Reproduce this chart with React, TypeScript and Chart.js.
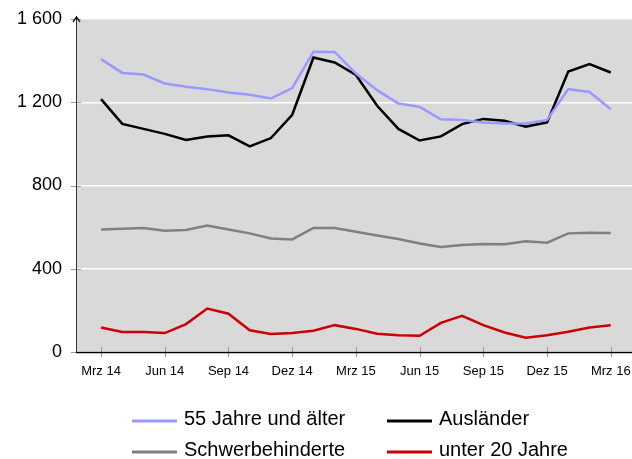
import React, { useEffect, useRef } from "react";
import { Chart, registerables } from "chart.js";

Chart.register(...registerables);

const months = [
  "Mrz 14", "Apr 14", "Mai 14", "Jun 14", "Jul 14", "Aug 14", "Sep 14", "Okt 14", "Nov 14", "Dez 14",
  "Jan 15", "Feb 15", "Mrz 15", "Apr 15", "Mai 15", "Jun 15", "Jul 15", "Aug 15", "Sep 15", "Okt 15",
  "Nov 15", "Dez 15", "Jan 16", "Feb 16", "Mrz 16",
];
const xTickIndices = [0, 3, 6, 9, 12, 15, 18, 21, 24];
const yTicks = [0, 400, 800, 1200, 1600];
const yTickLabels = ["0", "400", "800", "1 200", "1 600"];

const older55 = [1407, 1341, 1333, 1290, 1274, 1263, 1247, 1236, 1218, 1268, 1443, 1442, 1338, 1258, 1194, 1178, 1118, 1115, 1103, 1098, 1098, 1115, 1263, 1249, 1166];
const auslaender = [1215, 1096, 1072, 1048, 1019, 1035, 1041, 988, 1028, 1140, 1415, 1391, 1331, 1183, 1072, 1016, 1036, 1095, 1120, 1111, 1083, 1103, 1348, 1383, 1343];
const schwer = [588, 592, 596, 583, 586, 608, 589, 570, 545, 541, 596, 596, 578, 560, 543, 521, 504, 514, 519, 518, 532, 525, 570, 573, 572];
const unter20 = [118, 96, 96, 91, 134, 209, 184, 104, 86, 91, 102, 129, 111, 88, 80, 78, 140, 174, 129, 94, 69, 80, 97, 118, 129];

const seriesNames = ["55 Jahre und älter", "Ausländer", "Schwerbehinderte", "unter 20 Jahre"];
const seriesColors = ["#9999ff", "#000000", "#808080", "#cc0000"];
const seriesData = [older55, auslaender, schwer, unter20];

const FONT = "'Liberation Sans', Arial, sans-serif";

const decorPlugin = {
  id: "decor",
  beforeDraw(chart: any) {
    const { ctx, chartArea } = chart;
    ctx.save();
    ctx.fillStyle = "#d9d9d9";
    ctx.fillRect(chartArea.left, chartArea.top, chartArea.right - chartArea.left, chartArea.bottom - chartArea.top);
    ctx.restore();
  },
  afterDraw(chart: any) {
    const { ctx, chartArea, scales } = chart;
    const xs = scales.x;
    const ys = scales.y;
    ctx.save();
    // y ticks
    ctx.strokeStyle = "#999999";
    ctx.lineWidth = 1;
    for (const v of yTicks) {
      const py = Math.round(ys.getPixelForValue(v)) + 0.5;
      ctx.beginPath();
      ctx.moveTo(chartArea.left - 5, py);
      ctx.lineTo(chartArea.left + 5, py);
      ctx.stroke();
    }
    // x ticks
    for (const v of xTickIndices) {
      const px = Math.round(xs.getPixelForValue(v)) + 0.5;
      ctx.beginPath();
      ctx.moveTo(px, chartArea.bottom - 5);
      ctx.lineTo(px, chartArea.bottom + 5);
      ctx.stroke();
    }
    // y axis line with arrow
    ctx.strokeStyle = "#333333";
    ctx.lineWidth = 1;
    const ax = chartArea.left + 0.5;
    ctx.beginPath();
    ctx.moveTo(ax, chartArea.bottom);
    ctx.lineTo(ax, chartArea.top - 2);
    ctx.stroke();
    ctx.strokeStyle = "#000000";
    ctx.lineWidth = 1.3;
    ctx.beginPath();
    ctx.moveTo(ax - 3.5, chartArea.top + 3);
    ctx.lineTo(ax, chartArea.top - 2);
    ctx.lineTo(ax + 3.5, chartArea.top + 3);
    ctx.stroke();
    // x axis line
    ctx.strokeStyle = "#000000";
    ctx.lineWidth = 1.5;
    ctx.beginPath();
    ctx.moveTo(chartArea.left, chartArea.bottom + 0.5);
    ctx.lineTo(chartArea.right, chartArea.bottom + 0.5);
    ctx.stroke();
    // legend
    const cols = [132, 387];
    const rows = [419, 450];
    ctx.font = `20px ${FONT}`;
    ctx.textBaseline = "middle";
    ctx.textAlign = "left";
    for (let i = 0; i < 4; i++) {
      const cx = cols[i % 2];
      const cy = rows[Math.floor(i / 2)];
      ctx.strokeStyle = seriesColors[i];
      ctx.lineWidth = 3;
      ctx.beginPath();
      ctx.moveTo(cx, cy + 2);
      ctx.lineTo(cx + 45, cy + 2);
      ctx.stroke();
      ctx.fillStyle = "#000000";
      ctx.fillText(seriesNames[i], cx + 52, cy);
    }
    ctx.restore();
  },
};

export default function App() {
  const ref = useRef<HTMLCanvasElement>(null);
  useEffect(() => {
    if (!ref.current) return;
    const chart = new Chart(ref.current, {
      type: "line",
      data: {
        datasets: seriesData.map((arr, i) => ({
          label: seriesNames[i],
          data: arr.map((v, idx) => ({ x: idx, y: v })),
          borderColor: seriesColors[i],
          backgroundColor: seriesColors[i],
          borderWidth: 2.5,
          pointRadius: 0,
          tension: 0,
          fill: false,
        })),
      },
      options: {
        responsive: false,
        animation: false,
        layout: { padding: { top: 19, right: 0, left: 0, bottom: 0 } },
        plugins: { legend: { display: false }, tooltip: { enabled: false } },
        scales: {
          x: {
            type: "linear",
            min: -1.18,
            max: 25,
            afterFit: (s: any) => {
              s.height = 107;
              s.paddingLeft = 0;
              s.paddingRight = 0;
              s.paddingTop = 0;
              s.paddingBottom = 0;
            },
            afterBuildTicks: (s: any) => { s.ticks = xTickIndices.map((v) => ({ value: v })); },
            grid: { display: false, drawTicks: false },
            border: { display: false },
            ticks: {
              autoSkip: false,
              maxRotation: 0,
              padding: 12,
              color: "#000000",
              font: { family: FONT, size: 13 },
              callback: (v: any) => months[Number(v)] ?? "",
            },
          },
          y: {
            min: 0,
            max: 1600,
            afterFit: (s: any) => {
              s.width = 76;
              s.paddingLeft = 0;
              s.paddingRight = 0;
              s.paddingTop = 0;
              s.paddingBottom = 0;
            },
            afterBuildTicks: (s: any) => { s.ticks = yTicks.map((v) => ({ value: v })); },
            grid: { color: "#ffffff", lineWidth: 1.5, drawTicks: false },
            border: { display: false },
            ticks: {
              padding: 14,
              color: "#000000",
              font: { family: FONT, size: 18 },
              callback: (v: any) => yTickLabels[yTicks.indexOf(Number(v))] ?? "",
            },
          },
        },
      },
      plugins: [decorPlugin],
    });
    return () => chart.destroy();
  }, []);
  return (
    <div style={{ position: "fixed", left: 0, top: 0, width: 632, height: 459, background: "#ffffff" }}>
      <canvas ref={ref} width={632} height={459} style={{ display: "block" }} />
    </div>
  );
}
